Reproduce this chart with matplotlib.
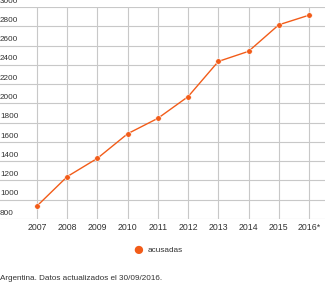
import matplotlib.pyplot as plt

plt.rcParams['font.family'] = ['Liberation Sans', 'DejaVu Sans']

years = ['2007', '2008', '2009', '2010', '2011', '2012', '2013', '2014', '2015', '2016*']
acusadas = [935, 1240, 1430, 1685, 1845, 2070, 2435, 2540, 2815, 2915]
yticks = [800, 1000, 1200, 1400, 1600, 1800, 2000, 2200, 2400, 2600, 2800, 3000]

orange = '#f25c19'
grid = '#c8c8c8'
txt = '#333333'

fig = plt.figure(figsize=(3.28, 2.84), dpi=100)
W, H = 328, 284
ax = fig.add_axes([0, 1 - 219 / H, 325 / W, 212 / H])
ax.set_xlim(-37 / 30.22, (325 - 37) / 30.22)
ax.set_ylim(800, 3000)
for s in ax.spines.values():
    s.set_visible(False)
ax.set_yticks([])
ax.set_xticks([])

x = list(range(len(years)))
for v in yticks:
    ax.axhline(v, color=grid, lw=0.8, zorder=1)
    ax.text(0, v + 25, str(v), transform=ax.get_yaxis_transform(),
            ha='left', va='bottom', fontsize=5.9, color=txt)
for i in x:
    ax.axvline(i, color=grid, lw=0.8, zorder=1)
    ax.text(i, 800 - 40, years[i], ha='center', va='top', fontsize=6.3,
            color=txt, clip_on=False)

ax.plot(x, acusadas, color=orange, lw=1.0, marker='o', ms=4,
        markeredgecolor='white', markeredgewidth=0.4, zorder=3)

# legend
fig.text(138 / W, 1 - 251 / H, '\u25cf', color=orange, fontsize=14,
         ha='center', va='center')
fig.text(148 / W, 1 - 251 / H, 'acusadas', color=txt, fontsize=5.9,
         ha='left', va='center')
fig.text(0, 1 - 278 / H, 'Argentina. Datos actualizados el 30/09/2016.',
         color=txt, fontsize=5.9, ha='left', va='center')

fig.savefig('out.png', dpi=100, facecolor='white')
